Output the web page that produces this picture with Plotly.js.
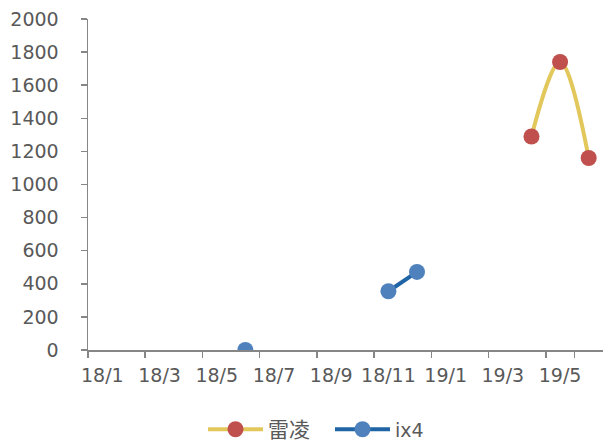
<!DOCTYPE html>
<html><head><meta charset="utf-8">
<script src="https://cdn.plot.ly/plotly-3.0.1.min.js"></script>
<style>html,body{margin:0;padding:0;background:#fff}#c{width:603px;height:445px}</style>
</head><body><div id="c"></div>
<script>
const months = ['18/1','18/2','18/3','18/4','18/5','18/6','18/7','18/8','18/9','18/10','18/11','18/12','19/1','19/2','19/3','19/4','19/5','19/6'];
const tickLabels = ['18/1','18/3','18/5','18/7','18/9','18/11','19/1','19/3','19/5'];
const leiling = [null,null,null,null,null,null,null,null,null,null,null,null,null,null,null,1290,1740,1160];
const ix4 = [null,null,null,null,null,0,null,null,null,null,355,472,null,null,null,null,null,null];

const traces = [
  {x: months, y: leiling, name: '<span style="font-size:21px">雷凌</span>', type: 'scatter', mode: 'lines+markers',
   line: {color: '#E2C75A', width: 4, shape: 'spline', smoothing: 1},
   marker: {color: '#C0504D', size: 16}, connectgaps: false},
  {x: months, y: ix4, name: 'ix4', type: 'scatter', mode: 'lines+markers',
   line: {color: '#1F64A5', width: 4},
   marker: {color: '#4F81BD', size: 16}, connectgaps: false}
];
const font = {family: 'DejaVu Sans, Liberation Sans, sans-serif', size: 19, color: '#595959'};
const layout = {
  width: 603, height: 445,
  margin: {l: 88, r: 0, t: 19, b: 95},
  paper_bgcolor: '#fff', plot_bgcolor: '#fff',
  font: font,
  showlegend: true,
  legend: {orientation: 'h', xref: 'container', yref: 'container', x: 203/603, xanchor: 'left', y: 0.035, yanchor: 'middle',
           font: {family: 'DejaVu Sans, Noto Sans CJK SC, sans-serif', size: 19, color: '#595959'}, itemwidth: 55,
           entrywidth: 57, traceorder: 'normal'},
  xaxis: {type: 'category', categoryorder: 'array', categoryarray: months,
          range: [-0.5, 17.5], tickmode: 'array', tickvals: tickLabels, ticktext: tickLabels, tickangle: 0,
          tickson: 'boundaries', ticks: 'outside', ticklen: 6, tickcolor: '#868686', tickwidth: 1.5,
          showline: true, linecolor: '#868686', linewidth: 1.5, showgrid: false, zeroline: false,
          tickfont: font, ticklabelstandoff: 8},
  yaxis: {range: [0, 2000], dtick: 200, tick0: 0, ticks: 'outside', ticklen: 6, tickcolor: '#868686', tickwidth: 1.5,
          showline: true, linecolor: '#868686', linewidth: 1.5, showgrid: false, zeroline: false,
          tickfont: font, ticklabelstandoff: 18}
};
Plotly.newPlot('c', traces, layout, {displayModeBar: false, staticPlot: true});
</script></body></html>
